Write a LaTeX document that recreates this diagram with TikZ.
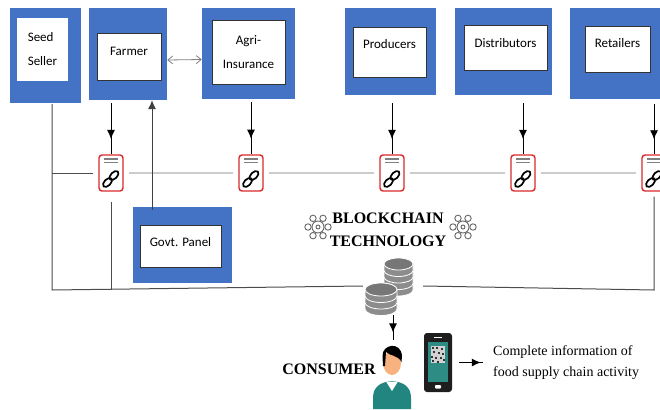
\documentclass[tikz,border=0pt]{standalone}
\usepackage{fontspec}
\setmainfont{Liberation Serif}
\newfontfamily\boxfont{Carlito}
\usepackage{tikz}
\usetikzlibrary{positioning,arrows.meta,decorations.markings}
\definecolor{boxblue}{HTML}{4472C4}
\definecolor{linkred}{HTML}{DA2A2A}
\definecolor{coingray}{HTML}{8C8C8C}
\definecolor{skin}{HTML}{F7B27F}
\definecolor{shirt}{HTML}{23857F}
\definecolor{screen}{HTML}{2D8C84}
\definecolor{phoneblack}{HTML}{1E1E1E}
\newcommand{\linkicon}[2]{%
	\node [linkbox] (#1) at (#2) {};
	\begin{scope}[shift={(#2)}]
		\draw [gray, line width=1.1pt] (-7,-14) -- (7,-14) (-7,-10.5) -- (7,-10.5);
		\draw [line width=1.7pt, rotate around={45:(-3.5,9.5)}] (-3.5,9.5) ellipse [x radius=5.5, y radius=3.2];
		\draw [line width=1.7pt, rotate around={45:(3,2.5)}] (3,2.5) ellipse [x radius=5.5, y radius=3.2];
	\end{scope}}
\newcommand{\coinstack}[5]{% x, top face y, x radius, y radius, coins
	\foreach \k in {#5,...,0} {
		\fill [coingray, draw=white, line width=0.8pt] (#1-#3,#2+6.5*\k) -- ++(0,6.5)
			arc [start angle=180, end angle=0, x radius=#3, y radius=#4] -- ++(0,-6.5)
			arc [start angle=0, end angle=-180, x radius=#3, y radius=#4] -- cycle;
	}
	\fill [coingray!85!black, draw=white, line width=0.8pt] (#1,#2) ellipse [x radius=#3, y radius=#4];}
\newcommand{\gearmark}[2]{%
	\begin{scope}[shift={(#1,#2)}, gray!80!black, line width=0.9pt]
		\draw (0,0) circle (6);
		\foreach \a in {0,60,...,300} \draw (\a:10) circle (3.2);
		\draw (0,0) circle (2);
	\end{scope}}

\begin{document}
\begin{tikzpicture}[x=1pt,y=-1pt]
	\tikzstyle{every node}+=[inner sep=0pt]
	\tikzstyle{outerbox}=[fill=boxblue]
	\tikzstyle{innerbox}=[fill=white, draw=black!80, line width=0.8pt, align=center, font=\boxfont\fontsize{13}{24}\selectfont]
	\tikzstyle{linkbox}=[draw=linkred, fill=white, line width=1.4pt, rounded corners=3pt, minimum width=24pt, minimum height=36pt]
	\tikzstyle{feed}=[black, line width=0.9pt, postaction={decorate}, decoration={markings, mark=at position 0.7 with {\arrow{Latex[length=9pt,width=8pt]}}}]
	\tikzstyle{wire}=[black!70, line width=1pt]
	\tikzstyle{chain}=[black!20, line width=1.2pt, shorten <=5pt, shorten >=5pt]
	\useasboundingbox (0,0) rectangle (660,409);

	\node [outerbox, minimum width=71pt, minimum height=95pt] (seed) at (45.5,55.5) {};
	\node [innerbox, draw=none, align=left, minimum width=51pt, minimum height=63pt] (seedin) at (42.5,49.5) {Seed\\Seller};
	\node [outerbox, minimum width=78pt, minimum height=92pt] (farmer) at (128,54) {};
	\node [innerbox, minimum width=64pt, minimum height=47pt, text depth=10pt] (farmerin) at (129,56.5) {Farmer};
	\node [outerbox, minimum width=93pt, minimum height=91pt] (agri) at (248.5,53.5) {};
	\node [innerbox, minimum width=73pt, minimum height=64pt] (agriin) at (248.5,52) {Agri-\\Insurance};
	\node [outerbox, minimum width=91pt, minimum height=87pt] (prod) at (390.5,51.5) {};
	\node [innerbox, minimum width=73pt, minimum height=50pt, text depth=17pt] (prodin) at (389.5,52) {Producers};
	\node [outerbox, minimum width=97pt, minimum height=87pt] (dist) at (503.5,51.5) {};
	\node [innerbox, minimum width=83pt, minimum height=45pt, text depth=10pt] (distin) at (505.5,47.5) {Distributors};
	\node [outerbox, minimum width=100pt, minimum height=91pt] (retail) at (620,53.5) {};
	\node [innerbox, minimum width=65pt, minimum height=46pt, text depth=13pt] (retailin) at (617.5,49) {Retailers};
	\node [outerbox, minimum width=99pt, minimum height=76pt] (govt) at (182.5,245) {};
	\node [innerbox, minimum width=81pt, minimum height=42pt, text depth=9pt] (govtin) at (180.5,246) {Govt. Panel};

	\linkicon{ic1}{111,173}
	\linkicon{ic2}{251,173}
	\linkicon{ic3}{392,173}
	\linkicon{ic4}{523,173}
	\linkicon{ic5}{654,173}

	\draw [chain] (ic1) -- (ic2);
	\draw [chain] (ic2) -- (ic3);
	\draw [chain] (ic3) -- (ic4);
	\draw [chain] (ic4) -- (ic5);

	\draw [feed] (farmer.south -| ic1) ++(0,3) -- (ic1.north);
	\draw [feed] (agri.south -| ic2) ++(0,3) -- (ic2.north);
	\draw [feed] (prod.south -| ic3) ++(0,8) -- (ic3.north);
	\draw [feed] (dist.south -| ic4) ++(0,8) -- (ic4.north);
	\draw [feed] (retail.south -| ic5) ++(0,5) -- (ic5.north);
	\draw [gray, line width=0.8pt, {Straight Barb[length=5pt,width=8pt]}-{Straight Barb[length=5pt,width=8pt]}] ([yshift=-6pt]farmer.east) -- ([yshift=-6pt]agri.west);

	% ledger loop back to the database
	\coordinate (sv) at (52,104);
	\coordinate (sb) at (52,290);
	\coordinate (gv) at (152,0);
	\node (coins) at (393,286) [minimum width=60pt, minimum height=58pt] {};
	\draw [wire] (sv) -- (sb) -- (coins.west);
	\draw [wire] (sv |- ic1) -- (ic1.west) [shorten >=5pt];
	\draw [wire, shorten <=10pt] (ic1.south) -- (ic1 |- sb);
	\draw [wire, shorten <=5pt] (ic5.south) -- (ic5 |- sb) -- (coins.east);
	\draw [black!75, line width=0.9pt, -{Latex[length=9pt,width=8pt]}] (govt.north -| gv) ++(0,3) -- (farmer.south -| gv);

	\gearmark{318}{227}
	\gearmark{463}{227}
	\node [font=\bfseries\fontsize{16}{23}\selectfont, align=center] (bc) at (388,229.5) {BLOCKCHAIN\\TECHNOLOGY};

	\coinstack{398.5}{264}{14.5}{6}{3}
	\coinstack{381}{289.5}{16}{6.5}{2}

	% consumer with phone
	\node [minimum width=42pt, minimum height=70pt] (user) at (392,375) {};
	\fill [shirt] (373,409) -- (373,398) .. controls (373,387) and (380,382) .. (392,381) .. controls (404,382) and (411,387) .. (411,398) -- (411,409) -- cycle;
	\fill [white] (386,381.5) -- (392,391) -- (398,381.5) -- cycle;
	\fill [skin] (392,363) ellipse [x radius=9, y radius=12];
	\fill [black] (383,366) -- (382.5,356) .. controls (382,344) and (401,341) .. (402,356) -- (401.5,362) .. controls (398,355) and (390,356) .. (386,352) -- (385,366) -- cycle;
	\node [font=\bfseries\fontsize{16}{18}\selectfont] (cons) at (329,369) {CONSUMER};
	\draw [feed] (coins.south) -- (coins.south |- user.north);

	\node [fill=phoneblack, rounded corners=3pt, minimum width=28pt, minimum height=59pt] (phone) at (438,362.5) {};
	\fill [screen] (428,342) rectangle (448,382);
	\fill [gray!35] (431,346) rectangle (445,363);
	\foreach \i/\j in {432/347,436/347,441/348,433/351,438/352,442/353,431/356,435/357,440/357,443/359,432/360,437/361}
		\fill [black!80] (\i,\j) rectangle ++(2,2);
	\draw [white, line width=1pt] (434,337.5) -- (442,337.5);
	\fill [white, rounded corners=0.8pt] (435,385) rectangle (441,388.5);

	\node [anchor=west, align=left, font=\fontsize{14}{21}\selectfont] (info) at (493,362.5) {Complete information of\\food supply chain activity};
	\draw [feed, shorten <=7pt, shorten >=10pt] (phone.east) -- (info.west);
\end{tikzpicture}
\end{document}
